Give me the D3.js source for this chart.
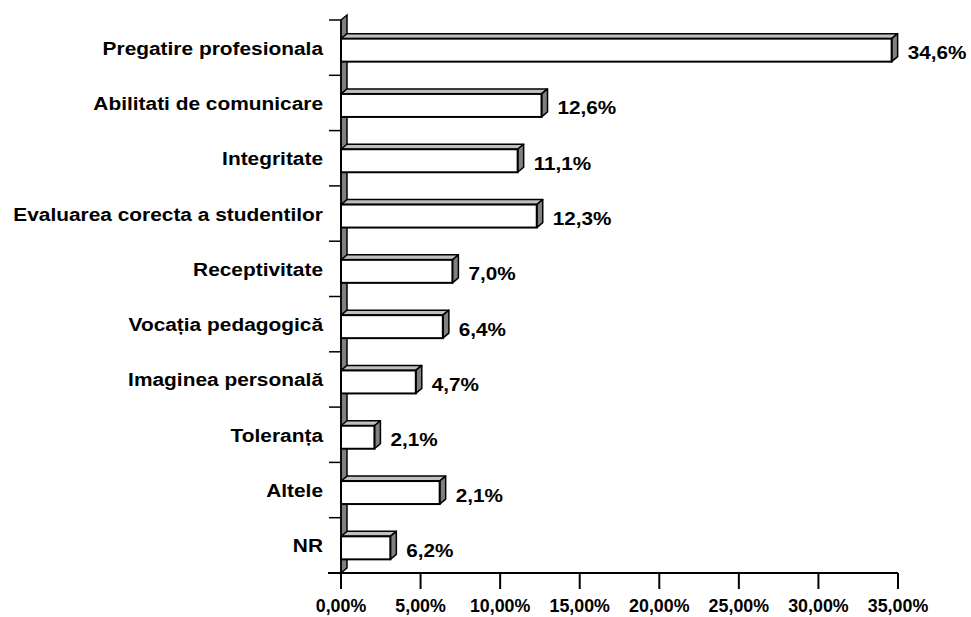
<!DOCTYPE html>
<html><head><meta charset="utf-8">
<script src="https://cdn.jsdelivr.net/npm/d3@7"></script>
<style>body{margin:0;background:#fff}svg{display:block}text{font-family:"Liberation Sans",Arial,sans-serif;font-weight:bold;fill:#000}</style>
</head><body><svg id="c" width="971" height="617"></svg>
<script>
const categories = ["Pregatire profesionala","Abilitati de comunicare","Integritate","Evaluarea corecta a studentilor","Receptivitate","Vocația pedagogică","Imaginea personală","Toleranța","Altele","NR"];
const barValues = [34.6,12.6,11.1,12.3,7.0,6.4,4.7,2.1,6.2,3.1];
const valueLabels = ["34,6%","12,6%","11,1%","12,3%","7,0%","6,4%","4,7%","2,1%","2,1%","6,2%"];
const tickValues = [0,5,10,15,20,25,30,35];
const tickLabels = ["0,00%","5,00%","10,00%","15,00%","20,00%","25,00%","30,00%","35,00%"];

const svg = d3.select("#c");
const x0 = 341, x1 = 898, yTop = 20, yBot = 573, d = 6;
const x = d3.scaleLinear().domain([0,35]).range([x0,x1]);
const y = d3.scaleBand().domain(categories).range([yTop,yBot]).paddingInner(0).paddingOuter(0);
const bh = 23;

function label(sel, px, py, size, sx, anchor, txt){
  return sel.append("text").attr("transform",`translate(${px},${py}) scale(${sx},1)`)
    .attr("text-anchor",anchor).style("font-size",size+"px").text(txt);
}

// wall
svg.append("path").attr("d",`M${x0},${yTop}L${x0+d},${yTop-5}L${x0+d},${yBot-5}L${x0},${yBot}Z`)
  .attr("fill","#808080").attr("stroke","#000").attr("stroke-width",1.5);

// x axis line
svg.append("line").attr("x1",328).attr("x2",x1).attr("y1",yBot).attr("y2",yBot).attr("stroke","#000").attr("stroke-width",2);
const gx = svg.append("g");
tickValues.forEach((t,i)=>{
  gx.append("line").attr("x1",x(t)).attr("x2",x(t)).attr("y1",yBot).attr("y2",yBot+16).attr("stroke","#000").attr("stroke-width",2);
  label(gx, x(t), yBot+39, 17.5, 1.02, "middle", tickLabels[i]);
});
const bounds = categories.map(c=>y(c)).concat([yBot]);
bounds.forEach(b=>{
  svg.append("line").attr("x1",329).attr("x2",x0).attr("y1",b).attr("y2",b).attr("stroke","#000").attr("stroke-width",1.5);
});
svg.append("line").attr("x1",x0).attr("x2",x0).attr("y1",yTop).attr("y2",yBot).attr("stroke","#000").attr("stroke-width",1.5);

const g = svg.append("g");
categories.forEach((c,i)=>{
  const cy = y(c) + y.bandwidth()/2 + 2.5;
  const top = cy - bh/2, bot = cy + bh/2;
  const xv = x(barValues[i]);
  g.append("path").attr("d",`M${x0},${top}L${x0+d},${top-5}L${xv+d},${top-5}L${xv},${top}Z`)
    .attr("fill","#c0c0c0").attr("stroke","#000").attr("stroke-width",1.5).attr("stroke-linejoin","round");
  g.append("path").attr("d",`M${xv},${top}L${xv+d},${top-5}L${xv+d},${bot-5}L${xv},${bot}Z`)
    .attr("fill","#808080").attr("stroke","#000").attr("stroke-width",1.5).attr("stroke-linejoin","round");
  g.append("rect").attr("x",x0).attr("y",top).attr("width",xv-x0).attr("height",bh)
    .attr("fill","#fff").attr("stroke","#000").attr("stroke-width",2);
  label(g, xv+d+10, cy+9, 18, 1.15, "start", valueLabels[i]);
  label(svg, 323, y(c)+y.bandwidth()/2+7, 18, 1.16, "end", c);
});
</script></body></html>
